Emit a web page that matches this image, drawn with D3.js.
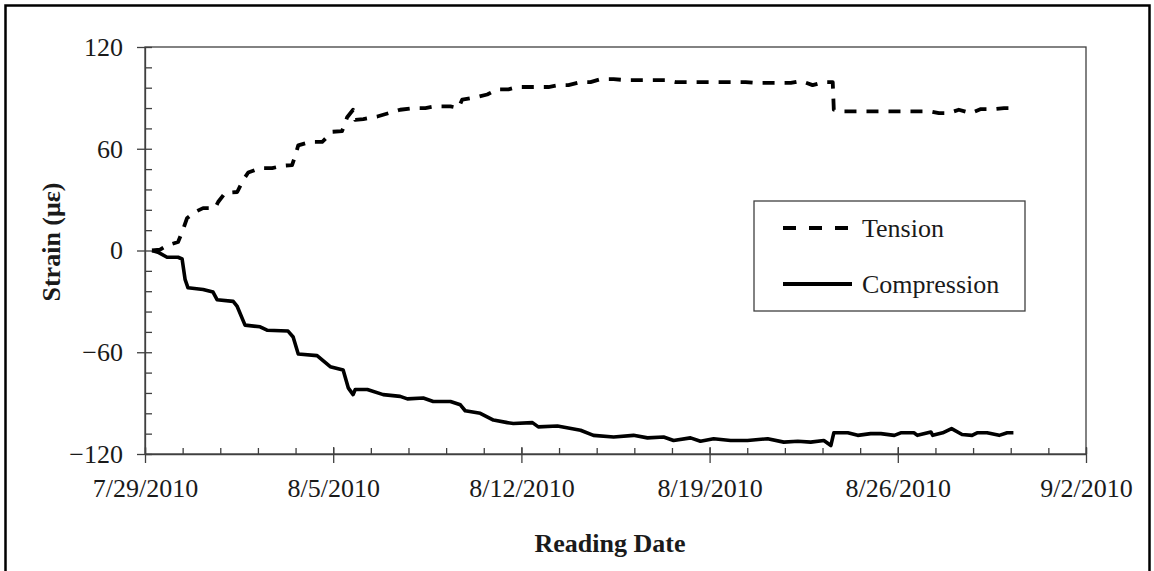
<!DOCTYPE html>
<html><head><meta charset="utf-8">
<script src="https://cdn.jsdelivr.net/npm/d3@7"></script>
<style>body{margin:0;background:#fff} svg{display:block}</style>
</head><body>
<svg id="chart" width="1154" height="571"></svg>
<script>
const startDate = "2010-07-29";
const endDate = "2010-09-02";
const xTickDates = ["2010-07-29","2010-08-05","2010-08-12","2010-08-19","2010-08-26","2010-09-02"];
const yTicks = [-120, -60, 0, 60, 120];
const seriesNames = ["Tension", "Compression"];
const xTitle = "Reading Date";
const yTitle = "Strain (\u03bc\u03b5)";

// days elapsed since 7/29/2010 00:00, and strain (microstrain)
const tensionDay = [0.26,0.56,0.82,1.23,1.41,1.56,1.86,2.16,2.61,2.72,2.98,3.43,3.65,3.84,4.28,4.73,5.14,5.47,5.59,5.70,6.14,6.59,6.96,7.33,7.52,7.74,7.82,8.12,8.64,9.49,9.98,10.43,10.80,11.36,11.66,11.80,12.36,12.73,13.11,13.52,13.85,14.26,14.63,15.01,15.38,15.75,16.20,16.57,16.94,17.43,17.87,18.54,18.99,19.36,19.73,20.03,20.48,20.85,21.22,21.60,21.97,22.34,22.71,23.16,23.64,24.02,24.39,24.83,25.25,25.58,25.62,25.95,26.25,26.62,27.63,28.04,28.48,28.78,29.23,29.53,29.90,30.27,30.72,31.09,31.57,31.95,32.39];
const tensionStrain = [0,0.5,3,5,12,19,22.7,25,25,28.6,34,34.5,41.5,46,48.6,48.6,50,50.4,56,62,64,64,70,70.4,78.6,83,77,77.5,79,83,84,84,85,85,84,89,90.5,92,95,95,96.4,96.4,96.4,96.4,97.5,97.5,99.3,99.3,101,101,100.5,100.5,100.5,100.5,99.3,99.3,99.3,99.3,99.3,99.3,99.3,99.3,98.8,98.8,98.8,98.8,100,97.5,99.3,99.3,83,82,82,82,82,82,82,82,82,81,81,83,81,83.4,83.4,84,84];

const compressionDay = [0.26,0.48,0.82,1.23,1.38,1.49,1.60,2.16,2.53,2.68,3.28,3.43,3.72,4.28,4.54,5.32,5.51,5.70,6.40,6.89,7.37,7.56,7.74,7.82,8.27,8.86,9.49,9.76,10.35,10.72,11.36,11.73,11.91,12.47,12.96,13.48,13.70,14.41,14.63,15.34,16.20,16.68,17.43,18.17,18.69,19.29,19.66,20.29,20.66,21.15,21.78,22.41,23.16,23.76,24.28,24.76,25.25,25.51,25.62,26.14,26.51,26.99,27.37,27.87,28.11,28.60,28.73,29.23,29.30,29.67,30.00,30.39,30.76,30.95,31.32,31.77,32.07,32.30];
const compressionStrain = [0,-1,-4,-4,-5,-17,-22,-23,-24.5,-29,-30,-33,-44,-45,-47,-47.5,-51,-61,-62,-68.5,-70.5,-81,-85,-82,-82,-85,-86,-87.5,-87,-89,-89,-91,-94.5,-96,-100,-101.5,-102,-101.5,-104,-103.5,-106,-109,-110,-109,-110.5,-110,-112,-110.5,-112.5,-111,-112,-112,-111,-113,-112.5,-113,-112,-115,-107.5,-107.5,-109,-108,-108,-109,-107.5,-107.5,-109,-107,-109,-107.5,-105,-108.5,-109,-107.5,-107.5,-109,-107.5,-107.5];

const svg = d3.select("#chart");
const W = 1154, H = 571;
const m = {left: 145, right: 1086, top: 47, bottom: 454};
const font = "'Liberation Serif','Times New Roman',serif";
const axisColor = "#404040";
const textColor = "#1a1a1a";

const parse = d3.utcParse("%Y-%m-%d");
const t0 = parse(startDate), t1 = parse(endDate);
const toDate = d => new Date(t0.getTime() + d * 864e5);

const x = d3.scaleUtc().domain([t0, t1]).range([m.left, m.right]);
const y = d3.scaleLinear().domain([-120, 120]).range([m.bottom, m.top]);

svg.append("rect").attr("width", W).attr("height", H).attr("fill", "#fff");
// outer chart border
svg.append("rect").attr("x", 5.5).attr("y", 5.5).attr("width", 1144).attr("height", 580)
  .attr("fill", "none").attr("stroke", "#000").attr("stroke-width", 2.5);

// plot frame
svg.append("rect").attr("x", m.left).attr("y", m.top)
  .attr("width", m.right - m.left).attr("height", m.bottom - m.top)
  .attr("fill", "none").attr("stroke", axisColor).attr("stroke-width", 1.3);

// x minor ticks (inside)
const totalDays = (t1 - t0) / 864e5;
const xMinor = d3.range(0, totalDays + 0.001, 1.4).map(toDate);
svg.append("g").attr("transform", `translate(0,${m.bottom})`)
  .call(d3.axisBottom(x).tickValues(xMinor).tickSize(-6).tickFormat(""))
  .call(g => { g.select(".domain").remove(); g.selectAll("line").attr("stroke", axisColor).attr("stroke-width", 1.3); });
// x major ticks (cross) with labels
const fmt = d3.utcFormat("%-m/%-d/%Y");
const xAx = svg.append("g").attr("transform", `translate(0,${m.bottom})`)
  .call(d3.axisBottom(x).tickValues(xTickDates.map(parse)).tickSizeInner(9).tickSizeOuter(0).tickPadding(16).tickFormat(fmt));
xAx.select(".domain").attr("stroke", axisColor).attr("stroke-width", 1.3);
xAx.selectAll("line").attr("y1", -7).attr("stroke", axisColor).attr("stroke-width", 1.3);
xAx.selectAll("text").attr("font-family", font).attr("font-size", 26).attr("fill", textColor);

// y minor ticks (inside)
const yMinor = d3.range(-120, 120.001, 12);
svg.append("g").attr("transform", `translate(${m.left},0)`)
  .call(d3.axisLeft(y).tickValues(yMinor).tickSize(-7).tickFormat(""))
  .call(g => { g.select(".domain").remove(); g.selectAll("line").attr("stroke", axisColor).attr("stroke-width", 1.3); });
const yAx = svg.append("g").attr("transform", `translate(${m.left},0)`)
  .call(d3.axisLeft(y).tickValues(yTicks).tickSizeInner(8).tickSizeOuter(0).tickPadding(14).tickFormat(d3.format("d")));
yAx.select(".domain").attr("stroke", axisColor).attr("stroke-width", 1.3);
yAx.selectAll("line").attr("stroke", axisColor).attr("stroke-width", 1.3);
yAx.selectAll("text").attr("font-family", font).attr("font-size", 26).attr("fill", textColor);

// series
const line = d3.line().x(d => x(toDate(d[0]))).y(d => y(d[1]));
const tension = tensionDay.map((d, i) => [d, tensionStrain[i]]);
const compression = compressionDay.map((d, i) => [d, compressionStrain[i]]);
svg.append("path").datum(compression).attr("d", line)
  .attr("fill", "none").attr("stroke", "#000").attr("stroke-width", 3.6).attr("stroke-linejoin", "round");
svg.append("path").datum(tension).attr("d", line)
  .attr("fill", "none").attr("stroke", "#000").attr("stroke-width", 3.8)
  .attr("stroke-dasharray", "12,10").attr("stroke-linejoin", "round");

// axis titles
svg.append("text").attr("x", 610).attr("y", 552).attr("text-anchor", "middle")
  .attr("font-family", font).attr("font-size", 26).attr("font-weight", "bold").attr("fill", textColor).text(xTitle);
svg.append("text").attr("transform", "translate(60,242) rotate(-90)").attr("text-anchor", "middle")
  .attr("font-family", font).attr("font-size", 26).attr("font-weight", "bold").attr("fill", textColor).text(yTitle);

// legend
const lg = svg.append("g");
lg.append("rect").attr("x", 754).attr("y", 201).attr("width", 271).attr("height", 110)
  .attr("fill", "#fff").attr("stroke", axisColor).attr("stroke-width", 1.3);
const legY = [228, 284];
seriesNames.forEach((name, i) => {
  lg.append("line").attr("x1", 783).attr("x2", 852).attr("y1", legY[i]).attr("y2", legY[i])
    .attr("stroke", "#000").attr("stroke-width", 4)
    .attr("stroke-dasharray", i === 0 ? "13,13" : null);
  lg.append("text").attr("x", 862).attr("y", legY[i] + 9).attr("font-family", font).attr("font-size", 26)
    .attr("fill", textColor).text(name);
});
</script>
</body></html>
